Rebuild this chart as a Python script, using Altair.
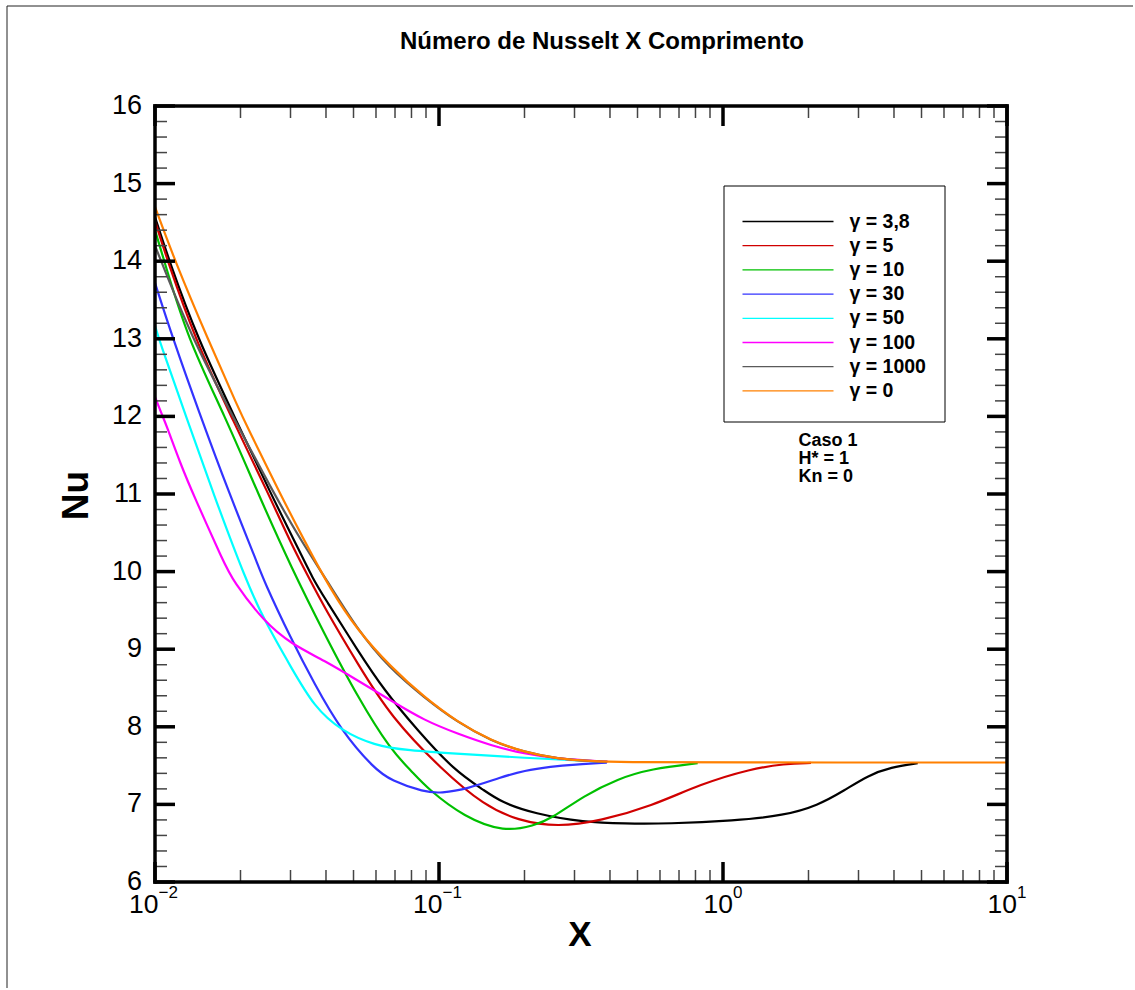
import altair as alt
import pandas as pd

FONT = "Liberation Sans"

title_text = "Número de Nusselt X Comprimento"
x_title = "X"
y_title = "Nu"
annot_lines = ["Caso 1", "H* = 1", "Kn = 0"]

series_labels = ["γ = 3,8", "γ = 5", "γ = 10", "γ = 30", "γ = 50", "γ = 100", "γ = 1000", "γ = 0"]
series_colors = ["#000000", "#d00000", "#00c000", "#3333ff", "#00ffff", "#ff00ff", "#5a5a5a", "#ff8000"]

x_g38 = [0.01, 0.01123, 0.01414, 0.01903, 0.02576, 0.03094, 0.03621, 0.03946, 0.05173, 0.06418, 0.08414,
         0.1132, 0.1444, 0.1653, 0.2166, 0.3248, 0.45, 0.6388, 1.096, 1.644, 2.155, 2.674, 3.233, 3.905, 4.849]
nu_g38 = [14.57, 14.00, 13.00, 12.00, 10.98, 10.40, 9.885, 9.67, 8.983, 8.468, 7.952,
          7.437, 7.18, 7.03, 6.88, 6.77, 6.752, 6.75, 6.79, 6.857, 6.986, 7.179, 7.372, 7.479, 7.531]

x_g5 = [0.01, 0.01108, 0.01383, 0.01852, 0.02526, 0.03013, 0.03522, 0.03946, 0.05173, 0.06776, 0.1030,
        0.1444, 0.1893, 0.2618, 0.3719, 0.5579, 0.8367, 1.255, 1.644, 2.041]
nu_g5 = [14.52, 14.00, 13.00, 12.00, 10.98, 10.36, 9.885, 9.54, 8.81, 8.124, 7.437,
         6.986, 6.792, 6.706, 6.79, 6.975, 7.265, 7.459, 7.523, 7.535]

x_g10 = [0.01, 0.01078, 0.01304, 0.01765, 0.02323, 0.03013, 0.03946, 0.05173, 0.06776, 0.0797, 0.09125,
         0.1228, 0.1698, 0.2166, 0.248, 0.3248, 0.4258, 0.5579, 0.8145]
nu_g10 = [14.40, 14.00, 13.00, 12.00, 10.98, 10.06, 9.20, 8.381, 7.695, 7.437, 7.20,
          6.835, 6.642, 6.728, 6.814, 7.115, 7.33, 7.459, 7.531]

x_g30 = [0.01, 0.01157, 0.01421, 0.01837, 0.02287, 0.02414, 0.03013, 0.03639, 0.04518, 0.05918, 0.06776,
         0.08877, 0.1016, 0.1262, 0.1653, 0.1997, 0.248, 0.2995, 0.39]
nu_g30 = [13.72, 13.00, 12.08, 10.98, 10.12, 9.885, 9.134, 8.554, 7.952, 7.459, 7.308,
          7.157, 7.144, 7.201, 7.35, 7.437, 7.488, 7.514, 7.538]

x_g50 = [0.01, 0.01031, 0.01286, 0.01614, 0.02091, 0.02427, 0.03013, 0.03639, 0.04518, 0.05918, 0.0776,
         0.1164, 0.1997, 0.3429, 0.39]
nu_g50 = [13.17, 13.00, 12.00, 10.98, 9.885, 9.37, 8.768, 8.253, 7.952, 7.759, 7.695,
          7.652, 7.60, 7.557, 7.55]

x_g100 = [0.01, 0.01064, 0.01093, 0.01235, 0.01369, 0.01746, 0.01878, 0.02427, 0.03013, 0.03946, 0.05173,
          0.06776, 0.08877, 0.1164, 0.1524, 0.1997, 0.2618, 0.382, 0.393]
nu_g100 = [12.25, 12.00, 11.90, 11.37, 10.98, 10.12, 9.885, 9.348, 9.07, 8.854, 8.597,
           8.339, 8.081, 7.91, 7.759, 7.652, 7.588, 7.553, 7.55]

x_g1000 = [0.01, 0.0135, 0.01882, 0.02645, 0.03266, 0.04033, 0.05185, 0.06668, 0.08877, 0.1164, 0.1524,
           0.1997, 0.2618, 0.3429, 0.39]
nu_g1000 = [14.20, 13.00, 12.00, 10.98, 10.40, 9.885, 9.24, 8.76, 8.375, 8.055, 7.82,
            7.672, 7.588, 7.556, 7.548]

x_g0 = [0.01, 0.01176, 0.01533, 0.01981, 0.02091, 0.02778, 0.03355, 0.04167, 0.05173, 0.06776, 0.08877,
        0.1164, 0.1524, 0.1997, 0.2618, 0.3429, 0.4374, 1.0, 10.0]
nu_g0 = [14.70, 14.00, 13.00, 12.08, 11.90, 10.98, 10.40, 9.757, 9.24, 8.768, 8.381,
         8.059, 7.823, 7.673, 7.588, 7.557, 7.544, 7.54, 7.54]

y_major = [6, 7, 8, 9, 10, 11, 12, 13, 14, 15, 16]
y_tick_labels = ["6", "7", "8", "9", "10", "11", "12", "13", "14", "15", "16"]
y_minor = [round(v + k * 0.2, 1) for v in range(6, 16) for k in (1, 2, 3, 4)]
x_decades = [0.01, 0.1, 1, 10]
x_dec_base = ["10", "10", "10", "10"]
x_dec_exp = ["\u22122", "\u22121", "0", "1"]
x_minor = [round(m * d, 4) for d in (0.01, 0.1, 1) for m in range(2, 10)]

# ---------------------------------------------------------------
W, H = 852, 776

series_x = [x_g38, x_g5, x_g10, x_g30, x_g50, x_g100, x_g1000, x_g0]
series_nu = [nu_g38, nu_g5, nu_g10, nu_g30, nu_g50, nu_g100, nu_g1000, nu_g0]
rows = []
for lab, xs_, ns_ in zip(series_labels, series_x, series_nu):
    for a, b in zip(xs_, ns_):
        rows.append({"label": lab, "X": a, "Nu": b})
df = pd.DataFrame(rows)

xs = alt.Scale(type="log", domain=[0.01, 10], nice=False)
ys = alt.Scale(domain=[6, 16], nice=False, zero=False)

lines = alt.Chart(df).mark_line(strokeWidth=2.2, interpolate="basis", clip=True).encode(
    x=alt.X("X:Q", scale=xs, axis=None),
    y=alt.Y("Nu:Q", scale=ys, axis=None),
    color=alt.Color("label:N", scale=alt.Scale(domain=series_labels, range=series_colors),
                    legend=alt.Legend(
                        orient="none", legendX=568.5, legendY=79.5, title=" ",
                        titleFontSize=6, titlePadding=0,
                        symbolType="stroke", symbolSize=8281, symbolStrokeWidth=1.3,
                        clipHeight=24, rowPadding=0.2, padding=18, symbolOffset=0,
                        labelFont=FONT, labelFontSize=19.5, labelFontWeight="bold",
                        labelColor="black", labelOffset=15, labelLimit=300,
                        strokeColor="black", fillColor="white")),
)


def ytick(vals, length, width, color, right):
    x0 = W - length if right else 0
    x1 = W if right else length
    return alt.Chart(pd.DataFrame({"Nu": vals})).mark_rule(strokeWidth=width, color=color).encode(
        y=alt.Y("Nu:Q", scale=ys, axis=None), x=alt.value(x0), x2=alt.value(x1))


def xtick(vals, length, width, color, top):
    y0 = 0 if top else H - length
    y1 = length if top else H
    return alt.Chart(pd.DataFrame({"X": vals})).mark_rule(strokeWidth=width, color=color).encode(
        x=alt.X("X:Q", scale=xs, axis=None), y=alt.value(y0), y2=alt.value(y1))


ticks = [
    ytick(y_minor, 12, 1.5, "#444444", False), ytick(y_minor, 12, 1.5, "#444444", True),
    ytick(y_major, 20, 3.5, "black", False), ytick(y_major, 20, 3.5, "black", True),
    xtick(x_minor, 12, 1.5, "#444444", False), xtick(x_minor, 12, 1.5, "#444444", True),
    xtick(x_decades, 20, 3.5, "black", False), xtick(x_decades, 20, 3.5, "black", True),
]

one = alt.Data(values=[{"k": 1}])
frame = [
    alt.Chart(one).mark_rule(strokeWidth=3.5, color="black", strokeCap="square").encode(
        x=alt.value(0), y=alt.value(0), y2=alt.value(H)),
    alt.Chart(one).mark_rule(strokeWidth=3.5, color="black", strokeCap="square").encode(
        x=alt.value(W), y=alt.value(0), y2=alt.value(H)),
    alt.Chart(one).mark_rule(strokeWidth=3.5, color="black", strokeCap="square").encode(
        y=alt.value(0), x=alt.value(0), x2=alt.value(W)),
    alt.Chart(one).mark_rule(strokeWidth=3.5, color="black", strokeCap="square").encode(
        y=alt.value(H), x=alt.value(0), x2=alt.value(W)),
]

ylabels = alt.Chart(pd.DataFrame({"Nu": y_major, "lab": y_tick_labels})).mark_text(
    align="right", baseline="middle", fontSize=27, font=FONT, color="black").encode(
    y=alt.Y("Nu:Q", scale=ys, axis=None), x=alt.value(-13), text="lab:N")

dec_df = pd.DataFrame({"X": x_decades, "base": x_dec_base, "exp": x_dec_exp})


def dec_labels(neg, dx):
    flt = "indexof(datum.exp, '\u2212') >= 0" if neg else "indexof(datum.exp, '\u2212') < 0"
    base = alt.Chart(dec_df).transform_filter(flt).mark_text(
        align="right", baseline="alphabetic", fontSize=26.5, font=FONT, color="black", dx=dx).encode(
        x=alt.X("X:Q", scale=xs, axis=None), y=alt.value(806.5), text="base:N")
    sup = alt.Chart(dec_df).transform_filter(flt).mark_text(
        align="left", baseline="alphabetic", fontSize=17, font=FONT, color="black", dx=dx).encode(
        x=alt.X("X:Q", scale=xs, axis=None), y=alt.value(791.5), text="exp:N")
    return [base, sup]


xlabels = dec_labels(True, 3.5) + dec_labels(False, 10)

border_v = alt.Chart(one).mark_rule(color="#222222", strokeWidth=1).encode(
    x=alt.value(-148), y=alt.value(-100), y2=alt.value(882))
border_h = alt.Chart(one).mark_rule(color="#222222", strokeWidth=1).encode(
    y=alt.value(-100), x=alt.value(-148), x2=alt.value(978))

title = alt.Chart(pd.DataFrame({"t": [title_text]})).mark_text(
    fontSize=24, fontWeight="bold", font=FONT, align="center", baseline="alphabetic", color="black").encode(
    x=alt.value(447), y=alt.value(-56.7), text="t:N")
xt = alt.Chart(pd.DataFrame({"t": [x_title]})).mark_text(
    fontSize=35, fontWeight="bold", font=FONT, align="center", baseline="alphabetic", color="black").encode(
    x=alt.value(425), y=alt.value(839.5), text="t:N")
yt = alt.Chart(pd.DataFrame({"t": [y_title]})).mark_text(
    fontSize=37, fontWeight="bold", font=FONT, align="center", baseline="alphabetic", angle=270,
    color="black").encode(x=alt.value(-67.5), y=alt.value(389.5), text="t:N")
annot = alt.Chart(one).mark_text(
    fontSize=18, fontWeight="bold", font=FONT, align="left", baseline="alphabetic", lineHeight=18.3,
    color="black").encode(x=alt.value(643.5), y=alt.value(339.5), text=alt.value(annot_lines))

chart = alt.layer(
    border_v, border_h, lines, *ticks, *frame, ylabels, *xlabels, title, xt, yt, annot
).properties(
    width=W, height=H, padding={"left": 6, "top": 5, "right": 0, "bottom": 0}
).configure(
    font=FONT, background="white"
).configure_view(
    stroke="transparent", strokeWidth=0
)

chart.save("out.html", embed_options={"renderer": "svg", "actions": False})
